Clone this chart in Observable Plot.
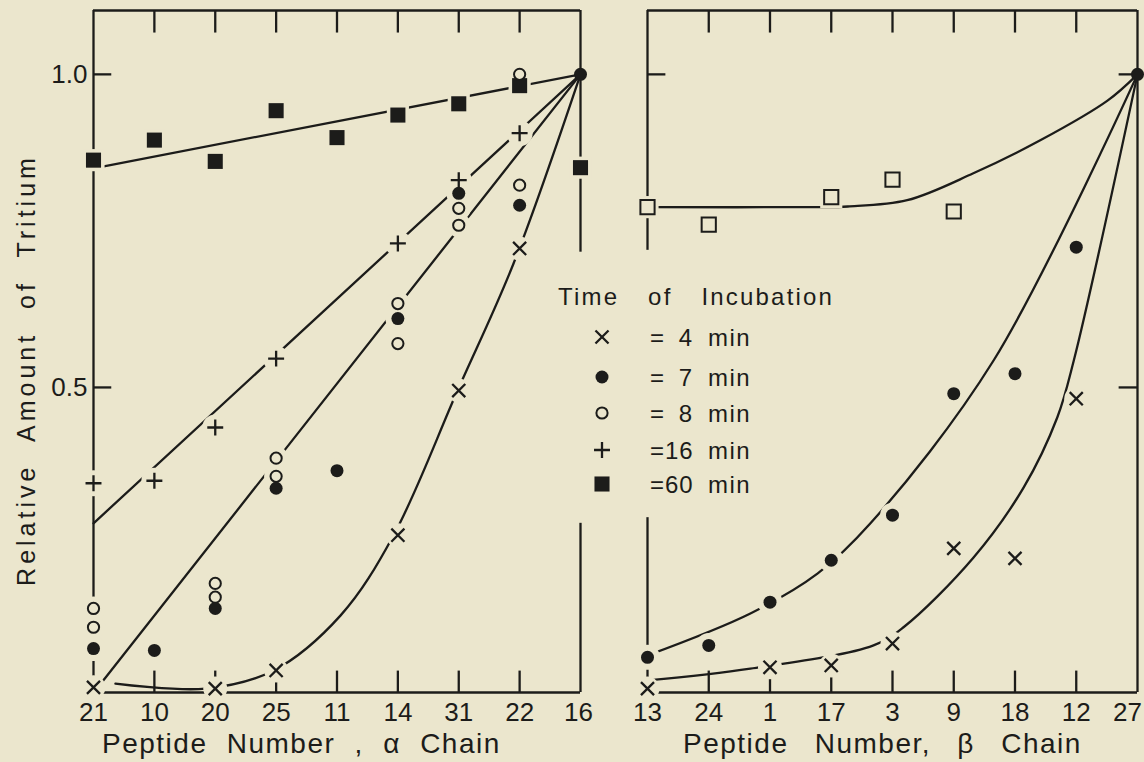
<!DOCTYPE html>
<html><head><meta charset="utf-8">
<script src="https://cdn.jsdelivr.net/npm/d3@7"></script>
<script src="https://cdn.jsdelivr.net/npm/@observablehq/plot@0.6"></script>
<style>
html,body{margin:0;padding:0;background:#ebe6cd;}
#wrap{position:relative;width:1144px;height:762px;overflow:hidden;background:#ebe6cd;}
#wrap svg{position:absolute;top:0;overflow:visible;max-width:none;}
</style></head>
<body><div id="wrap"></div>
<script>
// ---------- data ----------
const alphaPeptides = ["21","10","20","25","11","14","31","22","16"];
const betaPeptides  = ["13","24","1","17","3","9","18","12","27"];

// alpha chain (null = no point)
const alpha4   = [0.021, null, 0.019, 0.048, null, 0.264, 0.495, 0.722, null];
const alpha7   = [0.083, 0.080, 0.147, 0.339, 0.367, 0.610, 0.810, 0.791, 1.0];
const alpha8a  = [0.147, null, 0.187, 0.387, null, 0.634, 0.786, 0.823, null];
const alpha8b  = [0.117, null, 0.165, 0.358, null, 0.570, 0.759, 1.000, null];
const alpha16  = [0.347, 0.351, 0.436, 0.546, null, 0.730, 0.831, 0.906, null];
const alpha60  = [0.863, 0.895, 0.861, 0.942, 0.899, 0.935, 0.953, 0.982, 0.851];

// beta chain
const beta4  = [0.019, null, 0.053, 0.056, 0.091, 0.243, 0.227, 0.482, null];
const beta7  = [0.069, 0.088, 0.157, 0.224, 0.296, 0.490, 0.522, 0.724, 1.0];
const beta60 = [0.788, 0.760, null, 0.804, 0.832, 0.781, null, null, null];

// fitted curves as drawn (peptide position, value)
const alphaFit4  = [[0.36,0.027],[1.84,0.019],[2.96,0.048],[4.06,0.136],[4.93,0.264],[5.98,0.495],[6.90,0.698],[8,1.0]];
const alphaFit78 = [[0.16,0.032],[8,1.0]];
const alphaFit16 = [[0,0.283],[8,1.0]];
const alphaFit60 = [[0,0.850],[8,1.0]];
const betaFit4   = [[0,0.032],[1.68,0.051],[3.69,0.088],[4.18,0.117],[5.32,0.228],[6.14,0.340],[6.69,0.452],[6.96,0.543],[8,1.0]];
const betaFit7   = [[0,0.072],[1.68,0.139],[2.78,0.203],[3.64,0.283],[5.65,0.543],[8,1.0]];
const betaFit60  = [[0,0.788],[2.79,0.788],[3.27,0.789],[4.24,0.799],[5.32,0.842],[6.42,0.895],[7.51,0.958],[8,1.0]];

const yTickValues = [0.5, 1.0];
const legendTitle = "Time of Incubation";
const legendLabels = ["= 4", "= 7", "= 8", "=16", "=60"];
const legendUnit = "min";
const alphaTitle = "Peptide Number , α Chain";
const betaTitle = "Peptide Number, β Chain";
const yTitle = "Relative Amount of Tritium";

// ---------- styling ----------
const ink = "#1c1c1a", bg = "#ebe6cd";
const FONT = "'Liberation Sans', Arial, sans-serif";
const Y0 = 0.0128, Y1 = 1.102;
const LW = 2.3;

const ST = {
  x4:  {symbol:"times",  r:6.0, fill:"none", stroke:ink, strokeWidth:LW, hs:"circle", hr:12},
  f7:  {symbol:"circle", r:6.5, fill:ink, stroke:"none", hs:"circle", hr:12.5},
  o8:  {symbol:"circle", r:5.6, fill:bg, stroke:ink, strokeWidth:2, hs:"circle", hr:12},
  p16: {symbol:"plus",   r:5.2, fill:"none", stroke:ink, strokeWidth:LW, hs:"circle", hr:13},
  s60: {symbol:"square", r:8.5, fill:ink, stroke:"none", hs:"square", hr:12.5},
  q60: {symbol:"square", r:8.0, fill:bg, stroke:ink, strokeWidth:2, hs:"square", hr:12.5}
};

const pts = vals => vals.map((v,i)=>({i, v})).filter(d => d.v != null);
const fitPts = arr => arr.map(([i,v]) => ({i, v}));
const isRef = d => d.i === 8 && d.v === 1;

function panel({peptides, series, fits, frameGap, gapSide, tickLeft, tickRight, yAxis, width, marginLeft, marginRight, lastLabelDx}) {
  const marks = [];
  // frame
  marks.push(Plot.ruleY([Y1], {x1:0, x2:8, stroke:ink, strokeWidth:LW}));
  marks.push(Plot.ruleY([Y0], {x1:0, x2:8, stroke:ink, strokeWidth:LW}));
  const full = [{a:Y0, b:Y1}], gapped = [{a:Y0, b:frameGap[0]}, {a:frameGap[1], b:Y1}];
  marks.push(Plot.ruleX(gapSide === "left" ? gapped : full, {x:0, y1:"a", y2:"b", stroke:ink, strokeWidth:LW}));
  marks.push(Plot.ruleX(gapSide === "right" ? gapped : full, {x:8, y1:"a", y2:"b", stroke:ink, strokeWidth:LW}));
  // ticks
  marks.push(Plot.ruleX(d3.range(1,8), {y1:Y1, y2:1.066, stroke:ink, strokeWidth:LW}));
  marks.push(Plot.ruleX(d3.range(1,8), {y1:Y0, y2:0.047, stroke:ink, strokeWidth:LW}));
  marks.push(Plot.ruleY(tickLeft, {x1:0, x2:0.3, stroke:ink, strokeWidth:LW}));
  marks.push(Plot.ruleY(tickRight, {x1:7.7, x2:8, stroke:ink, strokeWidth:LW}));
  // fitted lines
  for (const f of fits) marks.push(Plot.line(fitPts(f.pts), {x:"i", y:"v", curve:f.curve, stroke:ink, strokeWidth:LW}));
  // halos (gaps in lines around points)
  for (const s of series) {
    const st = ST[s.style];
    marks.push(Plot.dot(pts(s.values).filter(d => !isRef(d)), {x:"i", y:"v", symbol:st.hs, r:st.hr, fill:bg, stroke:"none"}));
  }
  // points
  for (const s of series) {
    const {hs, hr, ...o} = ST[s.style];
    marks.push(Plot.dot(pts(s.values), {x:"i", y:"v", ...o}));
  }
  // x tick labels
  marks.push(Plot.text(d3.range(8), {x:d => d, y:Y0, text:d => peptides[d], dy:20, lineAnchor:"middle", fontSize:26, fill:ink}));
  marks.push(Plot.text([8], {x:d => d, y:Y0, text:d => peptides[d], dy:20, dx:lastLabelDx, lineAnchor:"middle", fontSize:26, fill:ink}));
  return Plot.plot({
    width, height:762, marginTop:10, marginBottom:70, marginLeft, marginRight,
    x: {domain:[0,8], axis:null},
    y: yAxis ? {domain:[Y0,Y1], ticks:yTickValues, tickFormat:d3.format(".1f"), tickSize:0, tickPadding:6, label:null}
             : {domain:[Y0,Y1], axis:null},
    style: {background:"transparent", fontFamily:FONT, fontSize:"26px", color:ink, overflow:"visible"},
    marks
  });
}

const left = panel({
  peptides: alphaPeptides,
  series: [
    {values:alpha60, style:"s60"},
    {values:alpha16, style:"p16"},
    {values:alpha8a, style:"o8"},
    {values:alpha8b, style:"o8"},
    {values:alpha7,  style:"f7"},
    {values:alpha4,  style:"x4"}
  ],
  fits: [
    {pts:alphaFit60, curve:"linear"},
    {pts:alphaFit16, curve:"linear"},
    {pts:alphaFit78, curve:"linear"},
    {pts:alphaFit4,  curve:"catmull-rom"}
  ],
  frameGap:[0.283, 0.716], gapSide:"right",
  tickLeft:[0.5, 1.0], tickRight:[],
  yAxis:true, width:600, marginLeft:93, marginRight:20, lastLabelDx:-2
});
left.style.left = "0px";

const right = panel({
  peptides: betaPeptides,
  series: [
    {values:beta60, style:"q60"},
    {values:beta7,  style:"f7"},
    {values:beta4,  style:"x4"}
  ],
  fits: [
    {pts:betaFit60, curve:"catmull-rom"},
    {pts:betaFit7,  curve:"catmull-rom"},
    {pts:betaFit4,  curve:"catmull-rom"}
  ],
  frameGap:[0.292, 0.719], gapSide:"left",
  tickLeft:[1.0], tickRight:[0.5, 1.0],
  yAxis:false, width:544, marginLeft:47, marginRight:7, lastLabelDx:-10
});
right.style.left = "600px";

const wrap = document.getElementById("wrap");
wrap.appendChild(left);
wrap.appendChild(right);

// ---------- overlay: titles and legend ----------
const ov = d3.select(wrap).append("svg")
  .attr("width", 1144).attr("height", 762)
  .style("left", "0px").style("pointer-events", "none")
  .style("font-family", FONT).attr("fill", ink);

ov.append("text").text(yTitle)
  .attr("transform", "translate(35,370) rotate(-90)")
  .attr("text-anchor", "middle")
  .style("font-size", "25px").style("letter-spacing", "4px").style("word-spacing", "12px");

ov.append("text").text(alphaTitle).attr("x", 102).attr("y", 753)
  .style("font-size", "28px").style("letter-spacing", "1.5px").style("word-spacing", "10px");
ov.append("text").text(betaTitle).attr("x", 683).attr("y", 753)
  .style("font-size", "28px").style("letter-spacing", "1.5px").style("word-spacing", "17px");

ov.append("text").text(legendTitle).attr("x", 558).attr("y", 305)
  .style("font-size", "24px").style("letter-spacing", "2.2px").style("word-spacing", "20px");

const rowY = [337, 377, 413, 450, 484];
const legendStyles = ["x4", "f7", "o8", "p16", "s60"];
legendStyles.forEach((k, j) => {
  const st = ST[k];
  const typ = {times:d3.symbolTimes, circle:d3.symbolCircle, plus:d3.symbolPlus, square:d3.symbolSquare}[st.symbol];
  ov.append("path")
    .attr("d", d3.symbol(typ, Math.PI * st.r * st.r)())
    .attr("transform", `translate(602,${rowY[j]})`)
    .attr("fill", st.fill).attr("stroke", st.stroke).attr("stroke-width", st.strokeWidth || 0);
  ov.append("text").text(legendLabels[j]).attr("x", 650).attr("y", rowY[j] + 8.5)
    .style("font-size", "24px").style("white-space", "pre").style("letter-spacing", "1px").style("word-spacing", "6px");
  ov.append("text").text(legendUnit).attr("x", 708).attr("y", rowY[j] + 8.5)
    .style("font-size", "24px").style("letter-spacing", "1.5px");
});
</script>
</body></html>
